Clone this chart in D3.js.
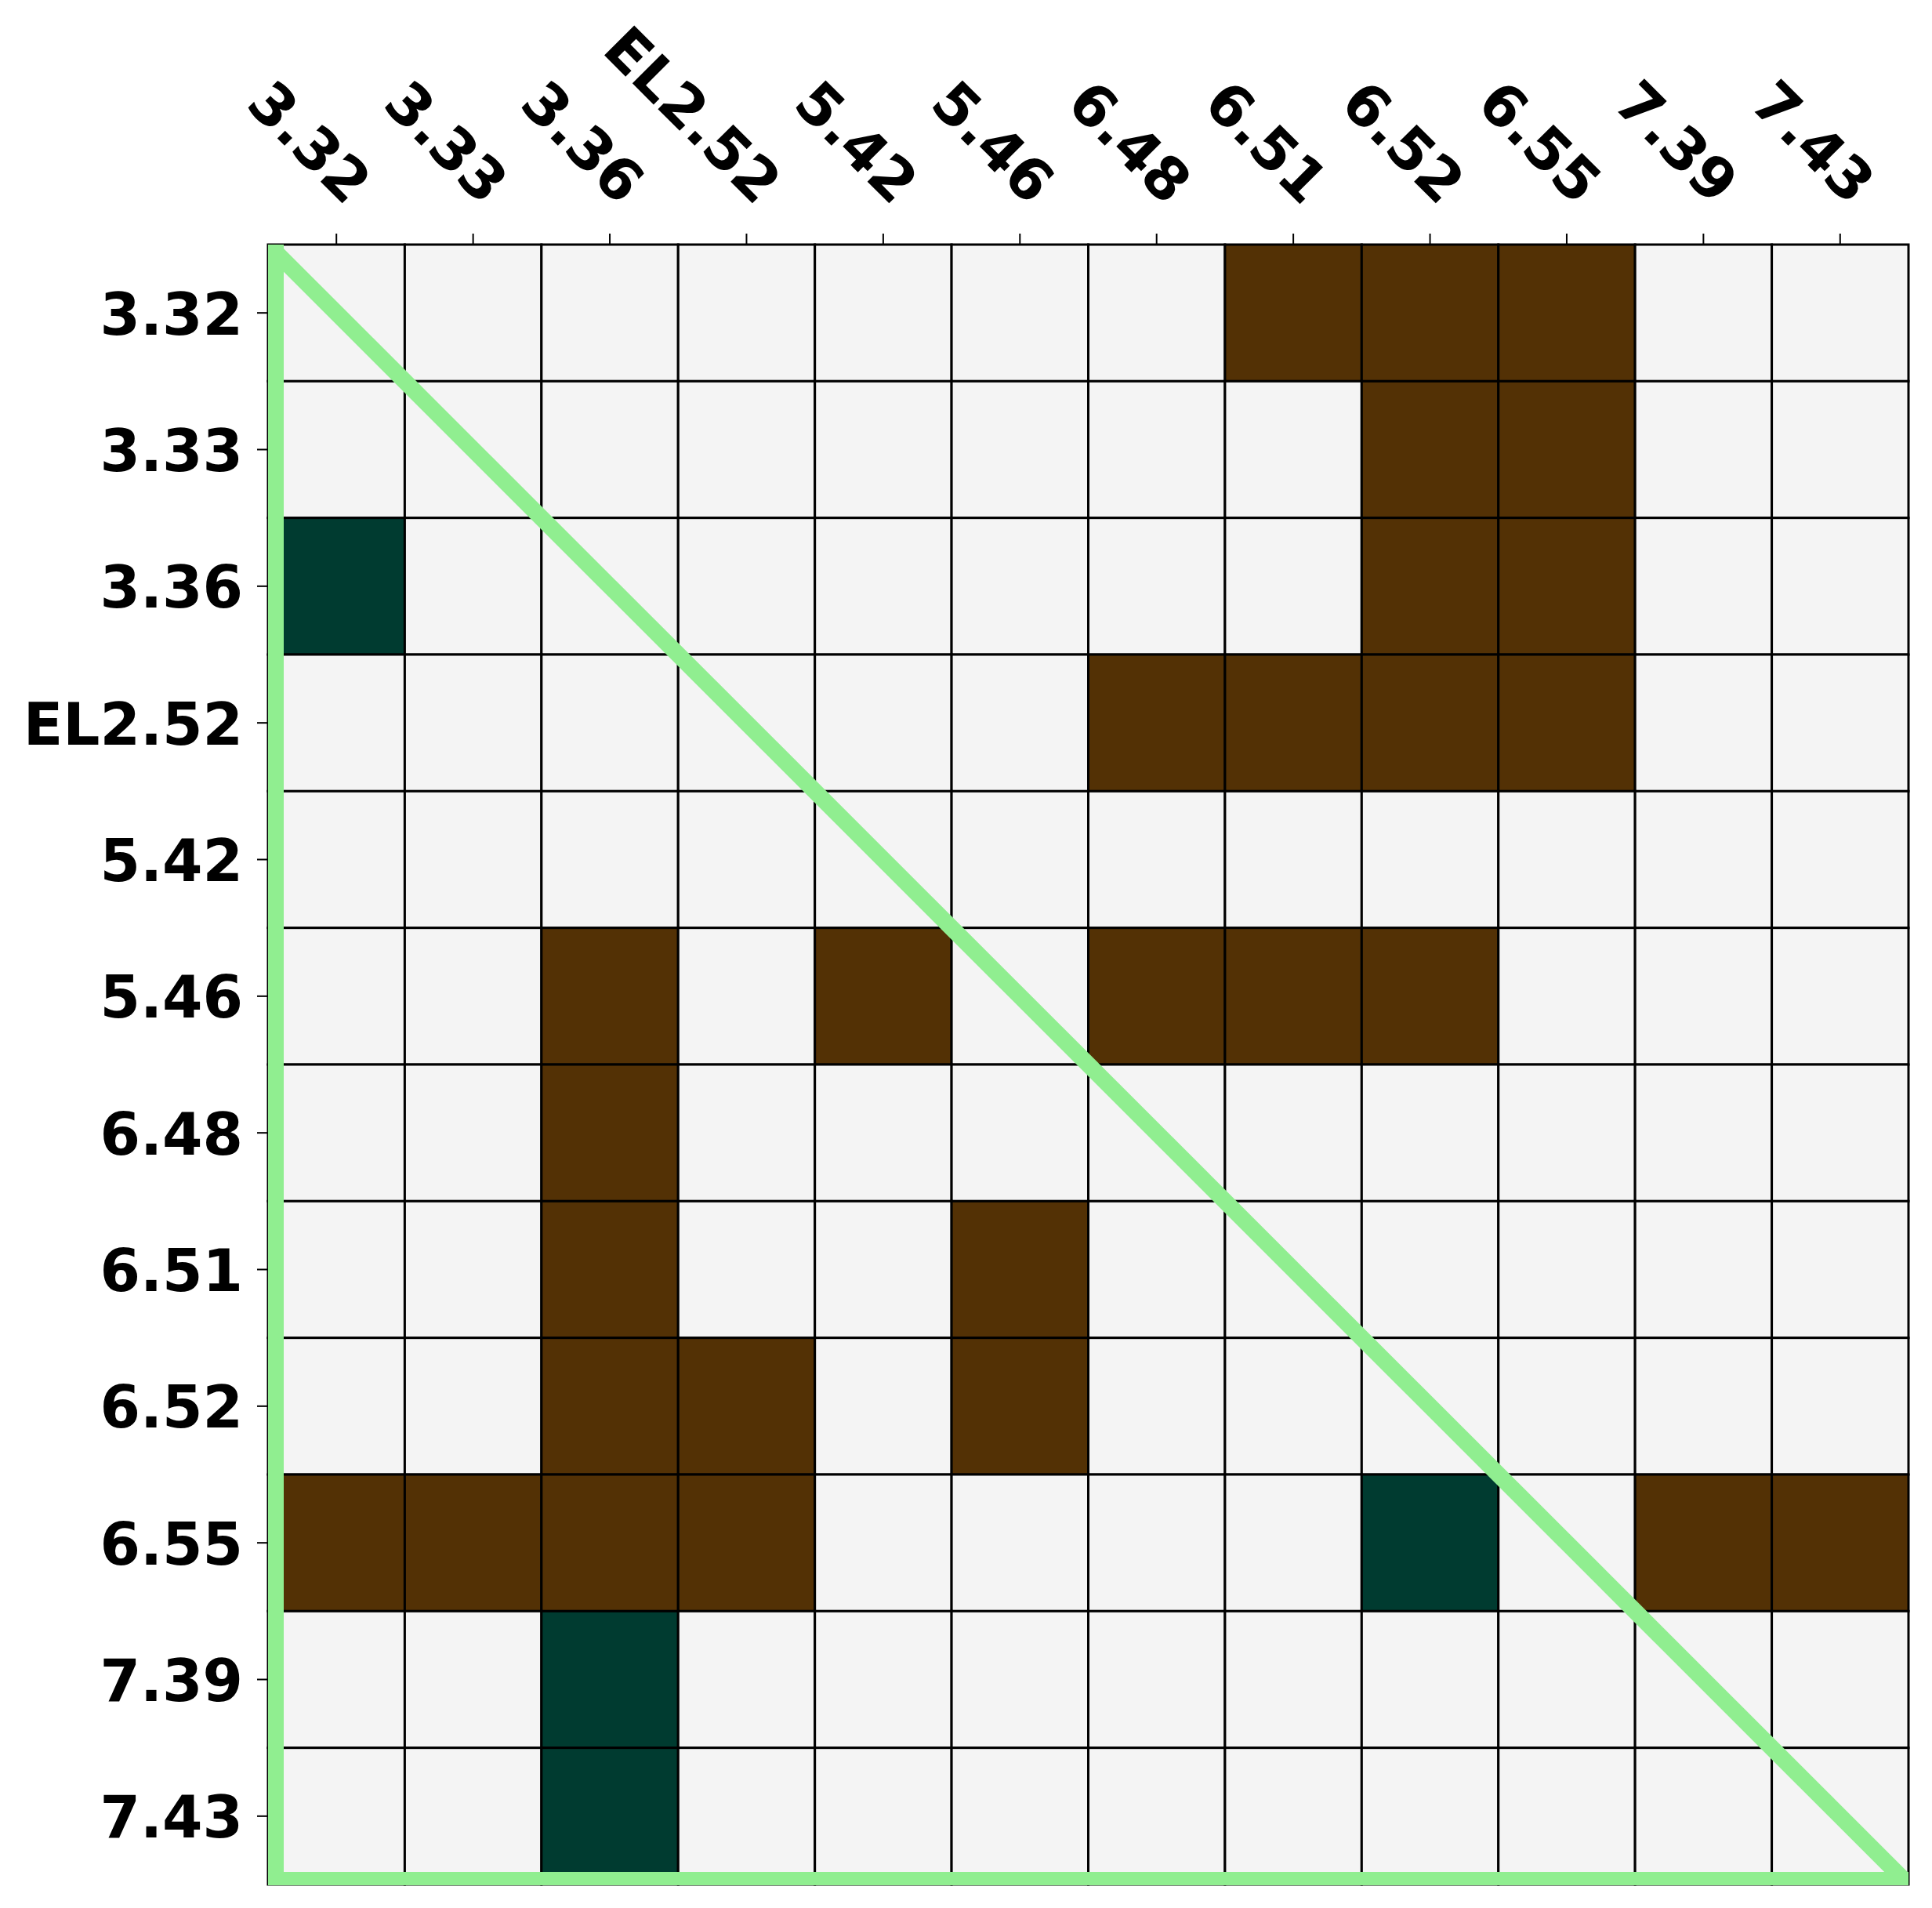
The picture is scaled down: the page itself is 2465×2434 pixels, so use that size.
<!DOCTYPE html>
<html>
<head>
<meta charset="utf-8">
<script src="https://cdn.jsdelivr.net/npm/d3@7"></script>
<style>
  html, body { margin: 0; padding: 0; background: #ffffff; }
  svg { display: block; }
</style>
</head>
<body>
<svg id="chart" width="2465" height="2434"></svg>
<script>
// Categories (same on both axes)
const categories = ["3.32", "3.33", "3.36", "EL2.52", "5.42", "5.46", "6.48", "6.51", "6.52", "6.55", "7.39", "7.43"];

// Matrix values, one array per row (-1 = brown, 0 = neutral, 1 = teal)
const row_3_32  = [ 0, 0, 0, 0, 0, 0, 0,-1,-1,-1, 0, 0];
const row_3_33  = [ 0, 0, 0, 0, 0, 0, 0, 0,-1,-1, 0, 0];
const row_3_36  = [ 1, 0, 0, 0, 0, 0, 0, 0,-1,-1, 0, 0];
const row_EL252 = [ 0, 0, 0, 0, 0, 0,-1,-1,-1,-1, 0, 0];
const row_5_42  = [ 0, 0, 0, 0, 0, 0, 0, 0, 0, 0, 0, 0];
const row_5_46  = [ 0, 0,-1, 0,-1, 0,-1,-1,-1, 0, 0, 0];
const row_6_48  = [ 0, 0,-1, 0, 0, 0, 0, 0, 0, 0, 0, 0];
const row_6_51  = [ 0, 0,-1, 0, 0,-1, 0, 0, 0, 0, 0, 0];
const row_6_52  = [ 0, 0,-1,-1, 0,-1, 0, 0, 0, 0, 0, 0];
const row_6_55  = [-1,-1,-1,-1, 0, 0, 0, 0, 1, 0,-1,-1];
const row_7_39  = [ 0, 0, 1, 0, 0, 0, 0, 0, 0, 0, 0, 0];
const row_7_43  = [ 0, 0, 1, 0, 0, 0, 0, 0, 0, 0, 0, 0];
const matrixRows = [row_3_32, row_3_33, row_3_36, row_EL252, row_5_42, row_5_46,
                    row_6_48, row_6_51, row_6_52, row_6_55, row_7_39, row_7_43];

const cells = [];
matrixRows.forEach((r, i) => r.forEach((v, j) => cells.push({row: categories[i], col: categories[j], v})));

const L = 342, R = 2435, T = 312, B = 2404;
const svg = d3.select("#chart");

const x = d3.scaleBand().domain(categories).range([L, R]).paddingInner(0).paddingOuter(0);
const y = d3.scaleBand().domain(categories).range([T, B]).paddingInner(0).paddingOuter(0);
const color = d3.scaleOrdinal().domain([-1, 0, 1]).range(["#533105", "#f4f4f4", "#003b30"]);

// Cells
svg.append("g").selectAll("rect").data(cells).join("rect")
  .attr("x", d => x(d.col))
  .attr("y", d => y(d.row))
  .attr("width", x.bandwidth())
  .attr("height", y.bandwidth())
  .attr("fill", d => color(d.v))
  .attr("stroke", "#000")
  .attr("stroke-width", 3);

// Green triangle outline, clipped to plot area
const defs = svg.append("defs");
defs.append("clipPath").attr("id", "plotclip").append("rect")
  .attr("x", L).attr("y", T).attr("width", R - L).attr("height", B - T + 1);
const tri = svg.append("g").attr("clip-path", "url(#plotclip)")
  .attr("stroke", "#90ee90").attr("fill", "none");
const c0 = categories[0], cN = categories[categories.length - 1];
const xl = x(c0), xr = x(cN) + x.bandwidth();
const yt = y(c0), yb = y(cN) + y.bandwidth();
tri.append("line").attr("x1", xl).attr("y1", yt - 20).attr("x2", xl).attr("y2", yb + 20).attr("stroke-width", 40);
tri.append("line").attr("x1", xl - 20).attr("y1", yb).attr("x2", xr + 20).attr("y2", yb).attr("stroke-width", 32);
tri.append("line").attr("x1", xl - 20).attr("y1", yt - 20).attr("x2", xr + 20).attr("y2", yb + 20).attr("stroke-width", 21);

const fontFam = "'DejaVu Sans', sans-serif";

// Top axis
const gx = svg.append("g").attr("transform", `translate(0,${T})`)
  .call(d3.axisTop(x).tickSize(14).tickPadding(0));
gx.select(".domain").remove();
gx.selectAll(".tick line").attr("stroke", "#000").attr("stroke-width", 2);
gx.selectAll(".tick text")
  .attr("x", 0).attr("y", 0).attr("dy", null)
  .attr("text-anchor", "end")
  .attr("transform", "translate(12,-48) rotate(45)")
  .attr("font-family", fontFam).attr("font-weight", "bold").attr("font-size", 74)
  .attr("fill", "#000");

// Left axis
const gy = svg.append("g").attr("transform", `translate(${L},0)`)
  .call(d3.axisLeft(y).tickSize(14).tickPadding(18));
gy.select(".domain").remove();
gy.selectAll(".tick line").attr("stroke", "#000").attr("stroke-width", 2);
gy.selectAll(".tick text")
  .attr("dy", "0.37em")
  .attr("font-family", fontFam).attr("font-weight", "bold").attr("font-size", 74)
  .attr("fill", "#000");
gx.attr("font-family", null); gy.attr("font-family", null);
</script>
</body>
</html>
